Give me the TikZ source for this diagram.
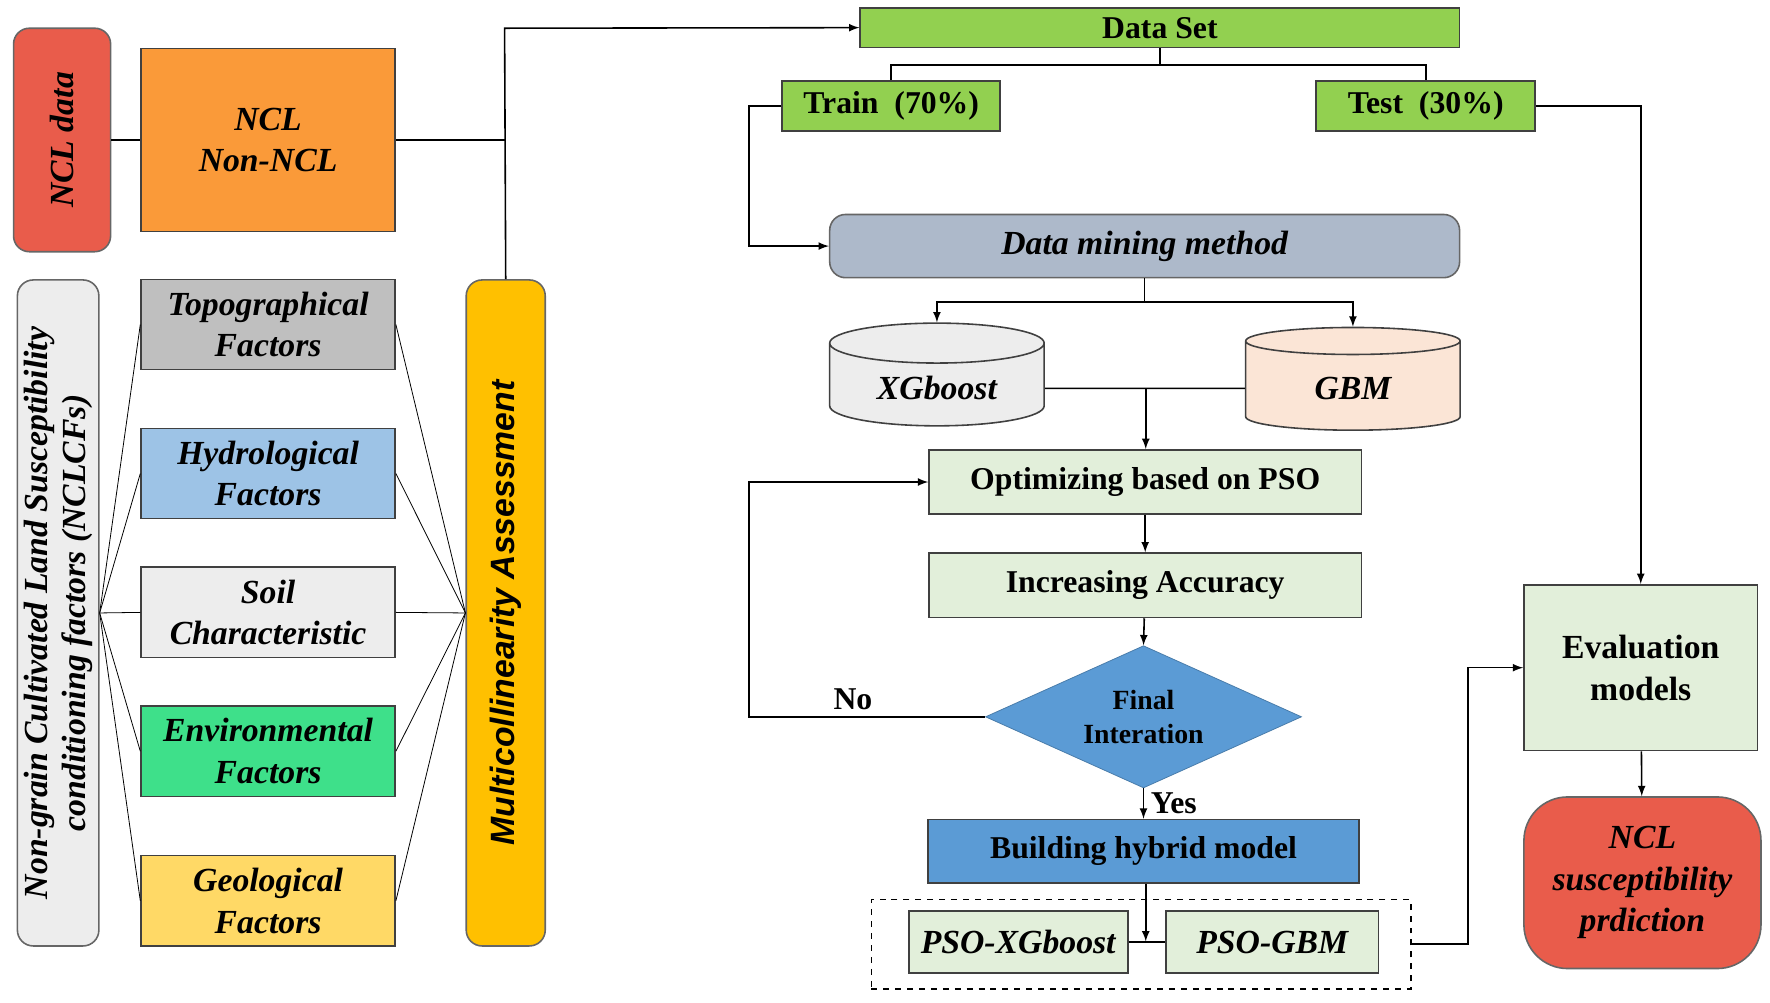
\documentclass[tikz,border=0pt]{standalone}
\usepackage{fontspec}
\setmainfont{Liberation Serif}
\newfontfamily\sansf{Liberation Sans}
\usetikzlibrary{shapes.geometric,arrows,positioning,calc}
\definecolor{redbox}{HTML}{E95C4B}
\definecolor{orangebox}{HTML}{FA9A39}
\definecolor{topo}{HTML}{BFBFBF}
\definecolor{hydro}{HTML}{9DC3E6}
\definecolor{soil}{HTML}{EDEDED}
\definecolor{envi}{HTML}{3EE08A}
\definecolor{geo}{HTML}{FFD966}
\definecolor{multi}{HTML}{FFC000}
\definecolor{lgreen}{HTML}{92D050}
\definecolor{pale}{HTML}{E2EFDA}
\definecolor{mining}{HTML}{ADB9CA}
\definecolor{peach}{HTML}{FBE5D6}
\definecolor{bluebox}{HTML}{5B9BD5}

\begin{document}
\begin{tikzpicture}[x=0.02cm,y=-0.02cm,
    box/.style={draw=black!75, thick, rectangle, align=center, font=\fontsize{16}{19}\selectfont\bfseries},
    ibox/.style={box, font=\fontsize{17}{21}\selectfont\bfseries\itshape},
    round/.style={draw=black!60, thick, rounded corners=8pt, align=center},
    cyl/.style={draw=black!75, thick, cylinder, shape border rotate=90, aspect=0.3, minimum width=190*0.02cm, minimum height=91*0.02cm, font=\fontsize{17}{21}\selectfont\bfseries\itshape},
    arr/.style={-latex, thick},
    ln/.style={thick}]
\useasboundingbox (0,0) rectangle (1568,888);

% left part
\node[round, fill=redbox, minimum width=198*0.02cm, minimum height=86*0.02cm, rotate=90, font=\fontsize{17}{21}\selectfont\bfseries\itshape] (ncldata) at (55,124) {NCL data};
\node[ibox, fill=orangebox, minimum width=225*0.02cm, minimum height=162*0.02cm] (ncl) at (237.5,124) {NCL\\Non-NCL};
\node[round, fill=soil, minimum width=590*0.02cm, minimum height=69*0.02cm, rotate=90, font=\fontsize{17}{19}\selectfont\bfseries\itshape] (cfs) at (51.5,543) {Non-grain Cultivated Land Susceptibility\\conditioning factors (NCLCFs)};
\node[round, fill=multi, minimum width=590*0.02cm, minimum height=70*0.02cm, rotate=90, font=\fontsize{17}{21}\selectfont\sansf\bfseries\itshape] (multi) at (448,543) {Multicollinearity Assessment};

\foreach \n/\c/\y/\t in {topo/topo/287.5/Topographical\\Factors, hydro/hydro/419.5/Hydrological\\Factors, soil/soil/542.5/Soil\\Characteristic, envi/envi/665.5/Environmental\\Factors, geo/geo/798/Geological\\Factors}{
    \node[ibox, fill=\c, minimum width=225*0.02cm, minimum height=80*0.02cm] (\n) at (237.5,\y) {\t};
    \draw[ln, thin] (cfs.south) -- (\n.west);
    \draw[ln, thin] (\n.east) -- (multi.north);
}

% data flow
\node[box, fill=lgreen, minimum width=531*0.02cm, minimum height=35*0.02cm] (data) at (1027.5,24.5) {Data Set};
\node[box, fill=lgreen, minimum width=193*0.02cm, minimum height=44*0.02cm] (train) at (789.5,94) {Train~~(70\%)};
\node[box, fill=lgreen, minimum width=194*0.02cm, minimum height=44*0.02cm] (test) at (1263,94) {Test~~(30\%)};
\node[round, fill=mining, minimum width=558*0.02cm, minimum height=56*0.02cm, font=\fontsize{17}{21}\selectfont\bfseries\itshape] (mining) at (1014,218) {Data mining method};
\node[cyl, fill=soil] (xgb) at (830,344) {XGboost};
\node[cyl, fill=peach] (gbm) at (1198.5,344) {GBM};
\node[box, fill=pale, minimum width=383*0.02cm, minimum height=57*0.02cm] (opt) at (1014.5,427) {Optimizing based on PSO};
\node[box, fill=pale, minimum width=383*0.02cm, minimum height=57*0.02cm] (acc) at (1014.5,518.5) {Increasing Accuracy};
\node[diamond, draw=bluebox!80!black, fill=bluebox, aspect=2.2, minimum width=280*0.02cm, minimum height=126*0.02cm, inner sep=0pt, align=center, font=\fontsize{14}{17}\selectfont\bfseries] (final) at (1013,635) {Final\\Interation};
\node[box, fill=bluebox, minimum width=382*0.02cm, minimum height=56*0.02cm] (build) at (1013,754) {Building hybrid model};
\node[ibox, fill=pale, minimum width=194*0.02cm, minimum height=55*0.02cm] (psox) at (902,834.5) {PSO-XGboost};
\node[ibox, fill=pale, minimum width=188*0.02cm, minimum height=55*0.02cm] (psog) at (1127,834.5) {PSO-GBM};
\node[draw, thick, dashed, minimum width=478*0.02cm, minimum height=79*0.02cm] (hyb) at (1011,836.5) {};
\node[box, fill=pale, minimum width=207*0.02cm, minimum height=147*0.02cm, font=\fontsize{17}{21}\selectfont\bfseries] (eval) at (1453.5,591.5) {Evaluation\\models};
\node[round, fill=redbox, rounded corners=22pt, minimum width=210*0.02cm, minimum height=152*0.02cm, font=\fontsize{17}{21}\selectfont\bfseries\itshape] (pred) at (1455,782) {NCL\\susceptibility\\prdiction};

\coordinate (split) at (1015,344);

% connectors
\draw[ln] (ncldata.south) -- (ncl.west);
\draw[ln] (ncl.east) -- (447,124);
\draw[arr] (multi.east) -- (447,25) -- (data.west);
\draw[ln] (data.south) -- ++(0,15) -| (train.north);
\draw[ln] (data.south) ++(0,15) -| (test.north);
\draw[arr] (train.west) -- ++(-29,0) |- (mining.west);
\draw[arr] (mining.south) -- ++(0,21) -| (xgb.top);
\draw[arr] (mining.south) ++(0,21) -| (gbm.top);
\draw[ln] (xgb.east) -- (gbm.west);
\draw[arr] (split) -- (opt.north -| split);
\draw[arr] (opt) -- (acc);
\draw[arr] (acc) -- (final.north);
\draw[arr] (final.west) -- ++(-209,0) node[pos=0.56, above, font=\fontsize{16}{19}\selectfont\bfseries] {No} |- (opt.west);
\draw[arr] (final.south) -- (build.north) node[midway, right, font=\fontsize{16}{19}\selectfont\bfseries] {Yes};
\draw[ln] (psox.east) -- (psog.west);
\draw[arr] (build.south -| 1015,0) -- (1015,834);
\draw[arr] (hyb.east) -- ++(50,0) |- (eval.west);
\draw[arr] (test.east) -| (eval.north);
\draw[arr] (eval) -- (pred);
\end{tikzpicture}
\end{document}
